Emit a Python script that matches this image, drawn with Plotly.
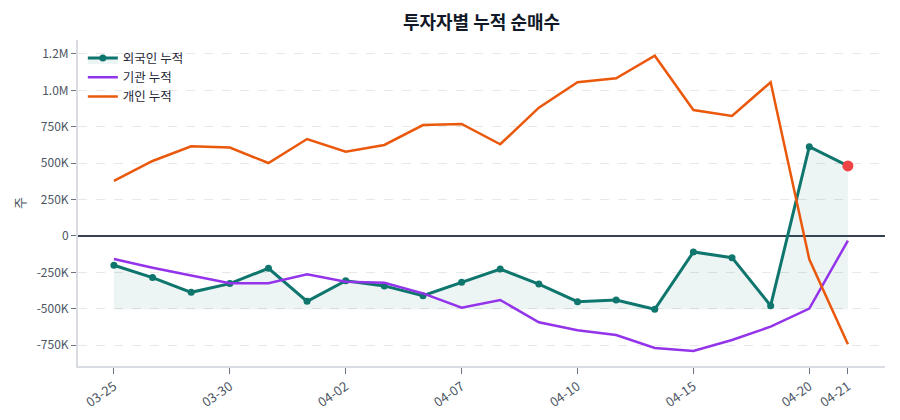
import plotly.graph_objects as go

dates = ["03-25", "03-26", "03-27", "03-30", "03-31", "04-01", "04-02", "04-03", "04-06", "04-07",
         "04-08", "04-09", "04-10", "04-13", "04-14", "04-15", "04-16", "04-17", "04-20", "04-21"]
foreign = [-201000, -286000, -387000, -327000, -222000, -449000, -307000, -343000, -410000, -318000,
           -227000, -330000, -451000, -440000, -503000, -110000, -149000, -479000, 613000, 481000]
institution = [-158000, -218000, -272000, -325000, -325000, -263000, -314000, -321000, -394000, -492000,
               -440000, -593000, -648000, -680000, -769000, -790000, -714000, -623000, -499000, -32000]
individual = [378000, 515000, 616000, 607000, 501000, 666000, 579000, 625000, 762000, 769000,
              630000, 881000, 1056000, 1083000, 1238000, 865000, 824000, 1056000, -160000, -744000]
tick_dates = ["03-25", "03-30", "04-02", "04-07", "04-10", "04-15", "04-20", "04-21"]
y_tickvals = [-750000, -500000, -250000, 0, 250000, 500000, 750000, 1000000, 1250000]
y_ticktext = ["-750K", "-500K", "-250K", "0", "250K", "500K", "750K", "1.0M", "1.2M"]

FONT = "Noto Sans CJK KR, Noto Sans, sans-serif"
baseline = min(foreign)

fig = go.Figure()
fig.add_trace(go.Scatter(x=dates, y=[baseline] * len(dates), mode="lines",
                         line=dict(width=0, color="rgba(0,0,0,0)"), showlegend=False, hoverinfo="skip"))
fig.add_trace(go.Scatter(x=dates, y=foreign, name="외국인 누적", mode="lines+markers",
                         line=dict(color="#0f766e", width=3), marker=dict(size=7, color="#0f766e"),
                         fill="tonexty", fillcolor="rgba(15,118,110,0.08)"))
fig.add_trace(go.Scatter(x=dates, y=institution, name="기관 누적", mode="lines",
                         line=dict(color="#9333ea", width=2.5)))
fig.add_trace(go.Scatter(x=dates, y=individual, name="개인 누적", mode="lines",
                         line=dict(color="#ea580c", width=2.5)))
fig.add_trace(go.Scatter(x=[dates[-1]], y=[foreign[-1]], mode="markers", showlegend=False,
                         marker=dict(size=11, color="#ef4444")))

fig.update_layout(
    width=900, height=420,
    margin=dict(l=78, r=15, t=40, b=54),
    paper_bgcolor="white", plot_bgcolor="white",
    font=dict(family=FONT, color="#4b5563", size=12),
    title=dict(text="<b>투자자별 누적 순매수</b>", x=0.535, xanchor="center", y=0.947, yanchor="middle",
               font=dict(size=18, color="#111827", family=FONT)),
    legend=dict(x=0.006, y=0.99, xanchor="left", yanchor="top", bgcolor="rgba(0,0,0,0)",
                font=dict(size=12.5, color="#1f2937"), traceorder="normal", itemwidth=30, tracegroupgap=2),
    showlegend=True,
)
fig.update_xaxes(type="category", range=[-0.93, 19.96], tickvals=tick_dates, ticktext=tick_dates,
                 tickangle=-35, showgrid=False, ticks="outside", ticklen=6, tickcolor="#6b7280",
                 showline=True, linecolor="#d9dde3", linewidth=2, tickfont=dict(size=13, color="#4b5563"),
                 automargin=False)
fig.update_yaxes(range=[-893000, 1346000], tickvals=y_tickvals, ticktext=y_ticktext,
                 showgrid=True, gridcolor="#e8e8e8", griddash="dash", gridwidth=1,
                 zeroline=True, zerolinecolor="#374151", zerolinewidth=1.5,
                 ticks="outside", ticklen=5, tickcolor="#6b7280",
                 showline=True, linecolor="#d9dde3", linewidth=2,
                 tickfont=dict(size=12, color="#4b5563"), automargin=False,
                 title=dict(text="주", font=dict(size=13, color="#4b5563"), standoff=8))

fig.write_html("out.html")
